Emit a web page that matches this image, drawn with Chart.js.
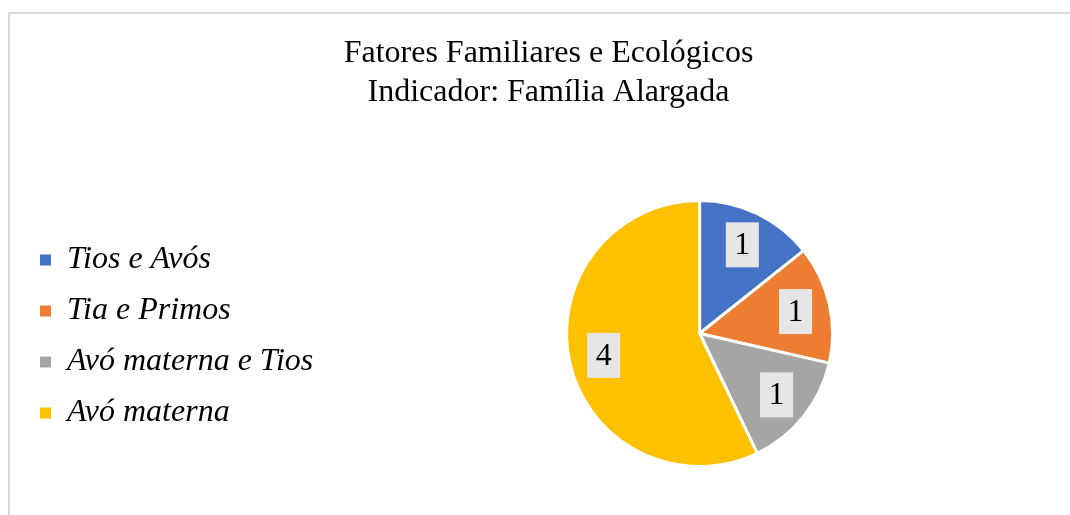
<!DOCTYPE html>
<html>
<head>
<meta charset="utf-8">
<script src="https://cdn.jsdelivr.net/npm/chart.js@4/dist/chart.umd.min.js"></script>
<style>
  html, body { margin: 0; padding: 0; background: #fff; overflow: hidden; width: 1070px; height: 515px; }
  #moldura { position: absolute; left: 8px; top: 12px; width: 1080px; height: 520px;
    border-left: 2px solid #d9d9d9; border-top: 2px solid #d9d9d9; }
  #wrap { position: absolute; left: 0; top: 0; width: 1078px; height: 515px; }
</style>
</head>
<body>
<div id="moldura"></div>
<div id="wrap"><canvas id="grafico"></canvas></div>
<script>
// Dados do gráfico
const categorias = ['Tios e Avós', 'Tia e Primos', 'Avó materna e Tios', 'Avó materna'];
const valores = [1, 1, 1, 4];
const cores = ['#4472C4', '#ED7D31', '#A5A5A5', '#FFC000'];
const titulo = ['Fatores Familiares e Ecológicos', 'Indicador: Família Alargada'];

const serif = '"Liberation Serif", "Times New Roman", serif';

// Rótulos de dados com fundo cinzento (estilo Excel)
const rotulosPlugin = {
  id: 'rotulos',
  afterDatasetsDraw(chart) {
    const ctx = chart.ctx;
    const meta = chart.getDatasetMeta(0);
    ctx.save();
    ctx.font = '32px ' + serif;
    ctx.textAlign = 'center';
    ctx.textBaseline = 'middle';
    meta.data.forEach((arc, i) => {
      const p = arc.getProps(['x', 'y', 'startAngle', 'endAngle', 'outerRadius'], true);
      const meio = (p.startAngle + p.endAngle) / 2;
      const r = p.outerRadius * 0.74;
      const x = p.x + Math.cos(meio) * r;
      const y = p.y + Math.sin(meio) * r;
      ctx.fillStyle = '#E7E6E6';
      ctx.fillRect(x - 16.5, y - 22.5, 33, 45);
      ctx.fillStyle = '#000';
      ctx.fillText(String(valores[i]), x, y + 1);
    });
    ctx.restore();
  }
};

new Chart(document.getElementById('grafico'), {
  type: 'pie',
  data: {
    labels: categorias,
    datasets: [{
      data: valores,
      backgroundColor: cores,
      borderColor: '#fff',
      borderWidth: 3,
      hoverOffset: 0
    }]
  },
  options: {
    responsive: true,
    maintainAspectRatio: false,
    animation: false,
    layout: { padding: { top: 0, left: 21, right: 2, bottom: 47 } },
    plugins: {
      tooltip: { enabled: false },
      title: {
        display: true,
        text: titulo,
        color: '#000',
        font: { family: serif, size: 32, weight: 'normal', lineHeight: 39 / 32 },
        padding: { top: 34, bottom: 87 }
      },
      legend: {
        position: 'left',
        fullSize: false,
        title: { display: true, text: ' ', font: { size: 5, lineHeight: 1.2 }, padding: 0 },
        labels: {
          boxWidth: 11,
          boxHeight: 11,
          padding: 19,
          color: '#000',
          font: { family: serif, size: 32, style: 'italic' },
          generateLabels(chart) {
            return Chart.overrides.pie.plugins.legend.labels.generateLabels(chart)
              .map(item => ({ ...item, lineWidth: 0 }));
          }
        }
      }
    }
  },
  plugins: [rotulosPlugin]
});
</script>
</body>
</html>
